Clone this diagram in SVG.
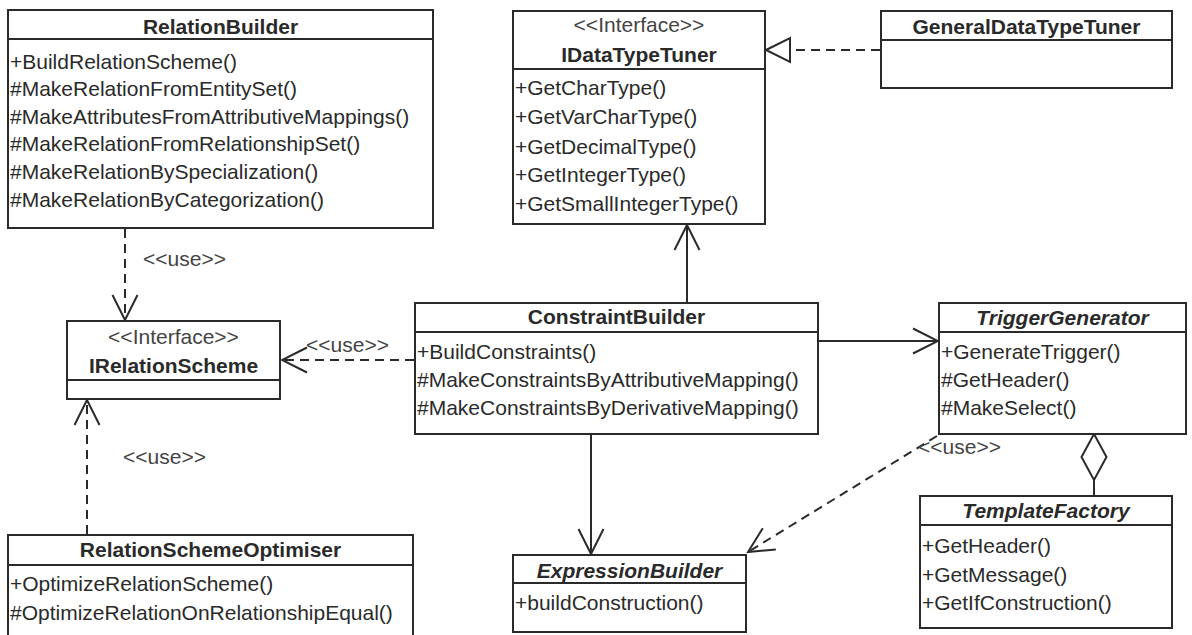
<svg xmlns="http://www.w3.org/2000/svg" width="1192" height="635" viewBox="0 0 1192 635">
  <style>
    .box { fill: #ffffff; stroke: #2a2a2a; stroke-width: 2; }
    .sep { stroke: #2a2a2a; stroke-width: 2; fill: none; }
    text { font-family: "Liberation Sans", Arial, sans-serif; font-size: 21px; fill: #2a2a2a; }
    .name { font-weight: bold; text-anchor: middle; }
    .abstract { font-weight: bold; font-style: italic; text-anchor: middle; }
    .stereo { text-anchor: middle; fill: #444444; }
    .lbl { fill: #444444; }
    .assoc { stroke: #2a2a2a; stroke-width: 2; fill: none; }
    .dep { stroke: #2a2a2a; stroke-width: 2; fill: none; stroke-dasharray: 9 6; }
  </style>
  <defs>
    <marker id="open" markerUnits="userSpaceOnUse" viewBox="-28 -15 30 30" markerWidth="30" markerHeight="30" refX="0" refY="0" orient="auto">
      <path d="M-25,-12.5 L0,0 L-25,12.5" fill="none" stroke="#2a2a2a" stroke-width="2" stroke-dasharray="none"/>
    </marker>
  </defs>

  <!-- connectors -->
  <g id="connectors">
    <!-- RelationBuilder uses IRelationScheme -->
    <line class="dep" x1="125" y1="229" x2="125" y2="320" marker-end="url(#open)"/>
    <text class="lbl" x="143" y="266">&lt;&lt;use&gt;&gt;</text>
    <!-- ConstraintBuilder uses IRelationScheme -->
    <line class="dep" x1="414" y1="360" x2="282" y2="360" marker-end="url(#open)"/>
    <text class="lbl" x="306" y="352">&lt;&lt;use&gt;&gt;</text>
    <!-- RelationSchemeOptimiser uses IRelationScheme -->
    <line class="dep" x1="87" y1="534" x2="87" y2="400" marker-end="url(#open)"/>
    <text class="lbl" x="123" y="464">&lt;&lt;use&gt;&gt;</text>
    <!-- GeneralDataTypeTuner realizes IDataTypeTuner -->
    <line class="dep" x1="880" y1="50" x2="791" y2="50"/>
    <polygon points="766,50 790,38 790,62" fill="#ffffff" stroke="#2a2a2a" stroke-width="2"/>
    <!-- ConstraintBuilder to IDataTypeTuner -->
    <line class="assoc" x1="687" y1="302" x2="687" y2="225" marker-end="url(#open)"/>
    <!-- ConstraintBuilder to TriggerGenerator -->
    <line class="assoc" x1="818" y1="341" x2="938" y2="341" marker-end="url(#open)"/>
    <!-- ConstraintBuilder to ExpressionBuilder -->
    <line class="assoc" x1="591" y1="435" x2="591" y2="554" marker-end="url(#open)"/>
    <!-- TriggerGenerator uses ExpressionBuilder -->
    <line class="dep" x1="937" y1="436" x2="748" y2="552" marker-end="url(#open)"/>
    <text class="lbl" x="918" y="454">&lt;&lt;use&gt;&gt;</text>
    <!-- TriggerGenerator aggregates TemplateFactory -->
    <polygon points="1094,434 1106.5,457 1094,480 1081.5,457" fill="#ffffff" stroke="#2a2a2a" stroke-width="2"/>
    <line class="assoc" x1="1094" y1="480" x2="1094" y2="496"/>
  </g>

  <g id="RelationBuilder">
    <rect class="box" x="8" y="10" width="425" height="218"/>
    <line class="sep" x1="8" y1="39" x2="433" y2="39"/>
    <text class="name" x="220.5" y="34">RelationBuilder</text>
    <text x="10" y="68.5">+BuildRelationScheme()</text>
    <text x="10" y="96">#MakeRelationFromEntitySet()</text>
    <text x="10" y="123.5">#MakeAttributesFromAttributiveMappings()</text>
    <text x="10" y="151">#MakeRelationFromRelationshipSet()</text>
    <text x="10" y="179">#MakeRelationBySpecialization()</text>
    <text x="10" y="207">#MakeRelationByCategorization()</text>
  </g>

  <g id="IDataTypeTuner">
    <rect class="box" x="513" y="11" width="252" height="213"/>
    <line class="sep" x1="513" y1="69" x2="765" y2="69"/>
    <text class="stereo" x="639" y="32">&lt;&lt;Interface&gt;&gt;</text>
    <text class="name" x="639" y="62">IDataTypeTuner</text>
    <text x="515" y="95">+GetCharType()</text>
    <text x="515" y="124">+GetVarCharType()</text>
    <text x="515" y="154">+GetDecimalType()</text>
    <text x="515" y="182">+GetIntegerType()</text>
    <text x="515" y="211">+GetSmallIntegerType()</text>
  </g>

  <g id="GeneralDataTypeTuner">
    <rect class="box" x="881" y="11" width="291" height="77"/>
    <line class="sep" x1="881" y1="40" x2="1172" y2="40"/>
    <text class="name" x="1026.5" y="34">GeneralDataTypeTuner</text>
  </g>

  <g id="IRelationScheme">
    <rect class="box" x="67" y="321" width="213" height="78"/>
    <line class="sep" x1="67" y1="380" x2="280" y2="380"/>
    <text class="stereo" x="173.5" y="344">&lt;&lt;Interface&gt;&gt;</text>
    <text class="name" x="173.5" y="373">IRelationScheme</text>
  </g>

  <g id="ConstraintBuilder">
    <rect class="box" x="415" y="303" width="403" height="131"/>
    <line class="sep" x1="415" y1="332" x2="818" y2="332"/>
    <text class="name" x="616.5" y="324">ConstraintBuilder</text>
    <text x="417" y="358.5">+BuildConstraints()</text>
    <text x="417" y="387">#MakeConstraintsByAttributiveMapping()</text>
    <text x="417" y="415">#MakeConstraintsByDerivativeMapping()</text>
  </g>

  <g id="TriggerGenerator">
    <rect class="box" x="939" y="303" width="247" height="131"/>
    <line class="sep" x1="939" y1="332" x2="1186" y2="332"/>
    <text class="abstract" x="1062.5" y="325">TriggerGenerator</text>
    <text x="941" y="358.5">+GenerateTrigger()</text>
    <text x="941" y="387">#GetHeader()</text>
    <text x="941" y="415">#MakeSelect()</text>
  </g>

  <g id="ExpressionBuilder">
    <rect class="box" x="513" y="555" width="233" height="77"/>
    <line class="sep" x1="513" y1="583" x2="746" y2="583"/>
    <text class="abstract" x="629.5" y="577.5">ExpressionBuilder</text>
    <text x="515" y="610">+buildConstruction()</text>
  </g>

  <g id="TemplateFactory">
    <rect class="box" x="920" y="496" width="252" height="132"/>
    <line class="sep" x1="920" y1="525" x2="1172" y2="525"/>
    <text class="abstract" x="1046" y="517.5">TemplateFactory</text>
    <text x="922" y="553">+GetHeader()</text>
    <text x="922" y="582">+GetMessage()</text>
    <text x="922" y="610">+GetIfConstruction()</text>
  </g>

  <g id="RelationSchemeOptimiser">
    <rect class="box" x="8" y="535" width="405" height="110"/>
    <line class="sep" x1="8" y1="565" x2="413" y2="565"/>
    <text class="name" x="210.5" y="557">RelationSchemeOptimiser</text>
    <text x="10" y="591">+OptimizeRelationScheme()</text>
    <text x="10" y="620">#OptimizeRelationOnRelationshipEqual()</text>
  </g>
</svg>
